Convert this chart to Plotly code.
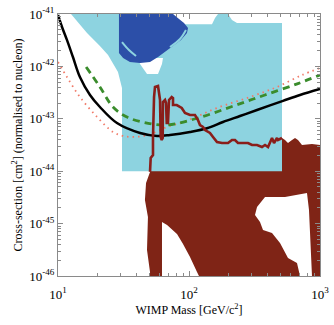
import plotly.graph_objects as go

# ---------------- data (mass in GeV/c^2, cross-section in cm^2) ----------------
black_mass = [10, 10.73, 11.7, 13.0, 14.7, 17.55, 20.9, 28.2, 42.3, 57.0, 71.6, 101.8, 137.2, 181.8, 245.1, 330.5, 521.9, 703.6, 1000]
black_xsec = [9.6e-42, 5.65e-42, 3.2e-42, 1.51e-42, 6.28e-43, 2.85e-43, 1.68e-43, 8.3e-44, 5.36e-44, 4.7e-44, 4.91e-44, 5.6e-44, 6.6e-44, 8.7e-44, 1.13e-43, 1.47e-43, 2.2e-43, 2.85e-43, 3.71e-43]

green_mass = [16.4, 20.9, 26.3, 33.6, 47.8, 68.0, 117, 213, 380, 679, 1000]
green_xsec = [9.75e-43, 4.05e-43, 1.68e-43, 1.08e-43, 8.3e-44, 7.6e-44, 1.035e-43, 1.72e-43, 2.85e-43, 4.7e-43, 6.86e-43]

red_mass = [10, 11.7, 14.7, 19.9, 26.3, 31.4, 37.4, 48.6, 68.0, 90.0, 117, 163.6, 292, 470, 729, 1000]
red_xsec = [1.21e-42, 6.28e-43, 2.61e-43, 1.08e-43, 5.6e-44, 4.7e-44, 4.5e-44, 4.91e-44, 6.97e-44, 8.7e-44, 1.13e-43, 1.61e-43, 2.61e-43, 4.05e-43, 6.86e-43, 9.3e-43]

# light-blue allowed region
lb_mass = [12.57, 60.1, 60.1, 149.8, 158.0, 166.5, 198.5, 212.9, 232.5, 512.8, 512.8, 30.8, 30.8, 28.7, 24.1, 20.9, 16.65, 12.57]
lb_xsec = [1e-41, 1e-41, 6.4e-42, 6.4e-42, 8.39e-42, 1e-41, 1e-41, 7.68e-42, 6.73e-42, 6.73e-42, 1e-44, 1e-44, 3.87e-43, 7.82e-43, 1.65e-42, 2.45e-42, 4.33e-42, 1e-41]

# gap below the dark-blue region
notch_mass = [40.8, 63.3, 62.2, 58.0, 47.8, 42.3, 40.8]
notch_xsec = [1.44e-42, 1.44e-42, 1.11e-42, 7.17e-43, 7.17e-43, 1.11e-42, 1.44e-42]

# dark-blue region
db_mass = [29.2, 75.5, 83.9, 91.6, 98.3, 96.5, 86.9, 75.5, 65.6, 58.0, 50.4, 42.3, 35.4, 31.4, 29.2]
db_xsec = [1e-41, 1e-41, 8.03e-42, 6.73e-42, 5.4e-42, 4.33e-42, 3.2e-42, 2.45e-42, 1.88e-42, 1.51e-42, 1.21e-42, 1.16e-42, 1.21e-42, 1.44e-42, 1.8e-42]

# inner light contour pieces
streak1_mass = [30.8, 34.8, 39.4]
streak1_xsec = [2.92e-42, 2.06e-42, 1.58e-42]
streak2_mass = [94.8, 85.4, 71.6]
streak2_xsec = [4.96e-42, 3.33e-42, 2.34e-42]

# dark-red contour (line)
sq_mass = [50.4, 51.0, 53.1, 53.1, 54.1, 55.0, 58.0, 60.1, 60.8, 61.9,
           63.0, 63.3, 65.6, 66.8, 67.6, 69.1, 70.4, 73.8, 75.5, 75.5,
           80.6, 88.0, 93.2, 101.8, 111.1, 115.1, 117.1, 121.3, 127.9, 132.5,
           144.6, 152.5, 163.6, 178.6, 198.5, 212.9, 224.4, 236.6, 258.4, 282.1,
           302.6, 330.5, 360.8, 380.4, 401.0, 415.3, 430.2, 445.6, 469.7, 478.1,
           512.8]
sq_xsec = [9.7e-45, 1.79e-44, 2.04e-44, 4.5e-44, 2.61e-43, 4.05e-43, 4.22e-43, 2.29e-43, 4.5e-44, 3.94e-44,
           4.3e-44, 2.09e-43, 2.29e-43, 2.0e-43, 8.3e-44, 8.3e-44, 2.29e-43, 2.61e-43, 2.49e-43, 1.83e-43,
           1.83e-43, 1.61e-43, 1.29e-43, 1.18e-43, 1.18e-43, 1.035e-43, 9.5e-44, 7.6e-44, 6.97e-44, 6.1e-44,
           5.36e-44, 4.5e-44, 3.6e-44, 3.45e-44, 3.45e-44, 3.94e-44, 3.94e-44, 3.45e-44, 3.45e-44, 3.45e-44,
           3.16e-44, 3.16e-44, 2.9e-44, 3.16e-44, 2.9e-44, 3.6e-44, 4.3e-44, 3.45e-44, 4.3e-44, 3.94e-44,
           4.3e-44]

# remainder of the dark-red filled region (right top, bottom, left side)
dr_tail_mass = [540.5, 569.8, 611.4, 644.5, 679.3, 728.8, 868.6, 1000, 1000, 50.4, 50.4, 47.8, 48.6, 46.1, 47.0, 50.4]
dr_tail_xsec = [3.94e-44, 3.45e-44, 3.94e-44, 4.3e-44, 3.94e-44, 3.16e-44, 3.3e-44, 3.16e-44, 1e-46, 1e-46, 1.19e-46, 3.13e-46, 1.34e-45, 2.82e-45, 5.96e-45, 9.7e-45]

hole1_mass = [62.2, 62.2, 68.0, 81.0, 90.0, 101.8, 115.1, 119.2, 62.2]
hole1_xsec = [1e-46, 1.07e-45, 9.4e-46, 6.3e-46, 4.08e-46, 2.31e-46, 1.19e-46, 1e-46, 1e-46]

hole2_mass = [703.6, 667.4, 569.8, 495.1, 430.2, 367.2, 348.3, 319.0, 330.5, 380.4, 540.5, 795.6, 824.0, 868.6, 703.6]
hole2_xsec = [1e-46, 1.77e-46, 2.21e-46, 4.27e-46, 6.6e-46, 7.55e-46, 1.07e-45, 1.46e-45, 2.07e-45, 3.22e-45, 3.22e-45, 3.84e-45, 1.82e-45, 1e-46, 1e-46]

x_tickvals = [10, 100, 1000]
x_ticktext = ["10<sup>1</sup>", "10<sup>2</sup>", "10<sup>3</sup>"]
y_tickvals = [1e-46, 1e-45, 1e-44, 1e-43, 1e-42, 1e-41]
y_ticktext = ["10<sup>-46</sup>", "10<sup>-45</sup>", "10<sup>-44</sup>", "10<sup>-43</sup>", "10<sup>-42</sup>", "10<sup>-41</sup>"]
minor_digits = [2, 3, 4, 5, 6, 7, 8, 9]
x_minor = [d * v for v in x_tickvals[:-1] for d in minor_digits]
y_minor = [d * v for v in y_tickvals[:-1] for d in minor_digits]

# ---------------- colours ----------------
C_LB = "#8dd3e0"
C_DB = "#2c4fa8"
C_DR = "#7f2416"
C_SQ = "#8a1e1a"
C_GREEN = "#3a8c2c"
C_RED = "#f07a68"

fig = go.Figure()


def area(xs, ys, color):
    fig.add_trace(go.Scatter(x=xs, y=ys, mode="lines", fill="toself", fillcolor=color,
                             line=dict(width=0, color=color), hoverinfo="skip", showlegend=False))


area(sq_mass + dr_tail_mass, sq_xsec + dr_tail_xsec, C_DR)
area(hole1_mass, hole1_xsec, "white")
area(hole2_mass, hole2_xsec, "white")
area(lb_mass, lb_xsec, C_LB)
area(notch_mass, notch_xsec, "white")
area(db_mass, db_xsec, C_DB)

for xs, ys in [(streak1_mass, streak1_xsec), (streak2_mass, streak2_xsec)]:
    fig.add_trace(go.Scatter(x=xs, y=ys, mode="lines", line=dict(color=C_LB, width=2, shape="spline"),
                             hoverinfo="skip", showlegend=False))

fig.add_trace(go.Scatter(x=red_mass, y=red_xsec, mode="lines",
                         line=dict(color=C_RED, width=1.8, dash="1.5px,4px", shape="spline"),
                         showlegend=False))
fig.add_trace(go.Scatter(x=green_mass, y=green_xsec, mode="lines",
                         line=dict(color=C_GREEN, width=2.8, dash="7px,5px", shape="spline"),
                         showlegend=False))
fig.add_trace(go.Scatter(x=black_mass, y=black_xsec, mode="lines",
                         line=dict(color="black", width=2.5, shape="spline"),
                         showlegend=False))
fig.add_trace(go.Scatter(x=sq_mass, y=sq_xsec, mode="lines",
                         line=dict(color=C_SQ, width=2.6),
                         showlegend=False))

font = "Liberation Serif, Times New Roman, serif"
axis_common = dict(
    type="log", showgrid=False, zeroline=False, showline=True, linecolor="#8a8a8a", linewidth=1,
    mirror="allticks", ticks="inside", ticklen=5, tickcolor="#8a8a8a", tickwidth=1,
    automargin=False,
    tickfont=dict(family=font, size=13, color="black"),
)

fig.update_layout(
    width=334, height=325,
    margin=dict(l=58, r=14, t=14, b=49),
    paper_bgcolor="white", plot_bgcolor="white",
    showlegend=False,
    xaxis=dict(range=[1, 3], tickmode="array", tickvals=x_tickvals, ticktext=x_ticktext, ticklabelstandoff=6,
               minor=dict(tickmode="array", tickvals=x_minor, ticks="inside", ticklen=3,
                          tickcolor="#8a8a8a", tickwidth=1, showgrid=False),
               title=dict(text="WIMP Mass [GeV/c<sup>2</sup>]", font=dict(family=font, size=12, color="black"),
                          standoff=4),
               **axis_common),
    yaxis=dict(range=[-46, -41], tickmode="array", tickvals=y_tickvals, ticktext=y_ticktext,
               minor=dict(tickmode="array", tickvals=y_minor, ticks="inside", ticklen=3,
                          tickcolor="#8a8a8a", tickwidth=1, showgrid=False),
               title=dict(text="Cross-section [cm<sup>2</sup>] (normalised to nucleon)",
                          font=dict(family=font, size=12, color="black"), standoff=4),
               **axis_common),
)

fig.write_html("out.html")
